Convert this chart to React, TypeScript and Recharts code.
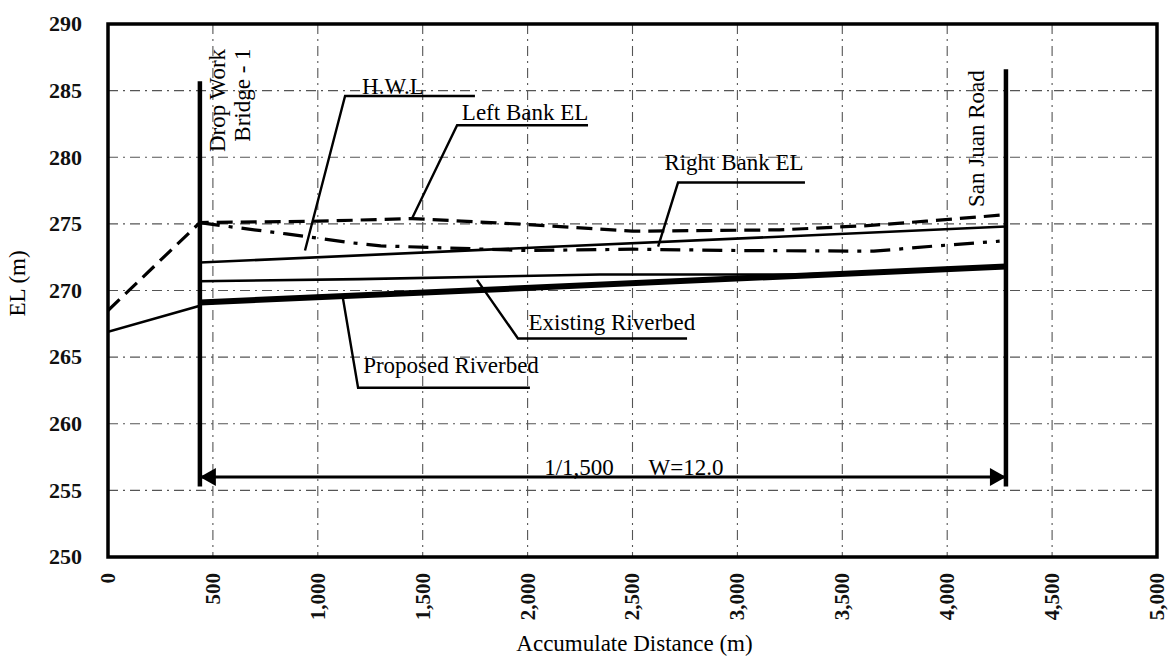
import React from 'react';
import { ComposedChart, Line, Scatter, XAxis, YAxis, CartesianGrid, ReferenceArea } from 'recharts';

// axis ticks
const xTicks = [0, 500, 1000, 1500, 2000, 2500, 3000, 3500, 4000, 4500, 5000];
const yTicks = [250, 255, 260, 265, 270, 275, 280, 285, 290];

// profiles (distance m, elevation m)
const leftBankDist = [0, 438, 1000, 1450, 2000, 2500, 3200, 3600, 3900, 4250];
const leftBankEl = [268.5, 275.1, 275.2, 275.4, 274.95, 274.45, 274.55, 274.85, 275.2, 275.65];

const hwlDist = [438, 550, 850, 1150, 1300, 2000, 2500, 3000, 3650, 3950, 4250];
const hwlEl = [275.1, 274.85, 274.25, 273.6, 273.35, 273.0, 273.1, 273.0, 272.95, 273.35, 273.7];

const rightBankDist = [438, 4280];
const rightBankEl = [272.1, 274.8];

const existingDist = [0, 438, 438, 1200, 2343, 3300, 4280];
const existingEl = [266.9, 268.85, 270.7, 270.85, 271.2, 271.2, 271.8];

const proposedDist = [438, 4280];
const proposedEl = [269.1, 271.8];

// structures
const dropWorkDist = [438, 438];
const dropWorkEl = [285.7, 255.3];
const sanJuanDist = [4280, 4280];
const sanJuanEl = [286.6, 255.3];

const arrowDist = [438, 4280];
const arrowEl = [256, 256];
const arrowDir = ['left', 'right'];

// leader lines (leader + underline)
const hwlLeaderDist = [939, 1130, 1749];
const hwlLeaderEl = [273.0, 284.6, 284.6];
const leftLeaderDist = [1449, 1664, 2288];
const leftLeaderEl = [275.4, 282.4, 282.4];
const rightLeaderDist = [2622, 2717, 3322];
const rightLeaderEl = [273.3, 278.1, 278.1];
const existLeaderDist = [1759, 1954, 2760];
const existLeaderEl = [270.8, 266.4, 266.4];
const propLeaderDist = [1120, 1192, 2011];
const propLeaderEl = [269.4, 262.7, 262.7];

// annotation text
const labelText = ['H.W.L', 'Left Bank EL', 'Right Bank EL', 'Existing Riverbed', 'Proposed Riverbed', '1/1,500', 'W=12.0', 'Drop Work', 'Bridge - 1', 'San Juan Road'];
const labelDist = [1358, 1988, 2984, 2402, 1635, 2245, 2755, 522, 643, 4137];
const labelEl = [285.3, 283.4, 279.65, 267.6, 264.35, 256.72, 256.72, 284.26, 284.67, 281.4];
const labelAngle = [0, 0, 0, 0, 0, 0, 0, -90, -90, -90];

const pts = (ds: number[], els: number[]) => ds.map((d, i) => ({ d, el: els[i] }));

const labels = labelText.map((text, i) => ({ d: labelDist[i], el: labelEl[i], text, angle: labelAngle[i] }));
const arrows = arrowDist.map((d, i) => ({ d, el: arrowEl[i], dir: arrowDir[i] }));

const FONT = '"Liberation Serif", "Times New Roman", serif';

const XTick = (p: any) => {
  const { x, y, payload } = p;
  return (
    <text x={x} y={y} transform={`rotate(-90, ${x}, ${y})`} textAnchor="end" dy="0.33em" fontSize={21} fontWeight="bold" fill="#111" fontFamily={FONT}>
      {Number(payload.value).toLocaleString('en-US')}
    </text>
  );
};

const YTick = (p: any) => {
  const { x, y, payload } = p;
  return (
    <text x={x} y={y} textAnchor="end" dy="0.33em" fontSize={22} fontWeight="bold" fill="#111" fontFamily={FONT}>
      {payload.value}
    </text>
  );
};

const LabelShape = (p: any) => {
  const { cx, cy, payload } = p;
  const rot = payload.angle ? `rotate(${payload.angle}, ${cx}, ${cy})` : undefined;
  return (
    <text x={cx} y={cy} dy="0.33em" textAnchor="middle" transform={rot} fontSize={23} fill="#000" fontFamily={FONT}>
      {payload.text}
    </text>
  );
};

const ArrowHead = (p: any) => {
  const { cx, cy, payload } = p;
  const s = payload.dir === 'left' ? 1 : -1;
  return <polygon points={`${cx},${cy} ${cx + s * 16},${cy - 9} ${cx + s * 16},${cy + 9}`} fill="#000" />;
};

const line = (key: string, data: any[], width: number, dash?: string) => (
  <Line
    key={key}
    data={data}
    dataKey="el"
    type="linear"
    stroke="#000"
    strokeWidth={width}
    strokeDasharray={dash}
    dot={false}
    activeDot={false}
    isAnimationActive={false}
    legendType="none"
  />
);

export default function App() {
  return (
    <div style={{ position: 'absolute', left: 0, top: 0, width: 1168, height: 663, background: '#fff', fontFamily: FONT }}>
      <ComposedChart width={1168} height={663} margin={{ top: 24, right: 11, bottom: 0, left: 0 }}>
        <CartesianGrid stroke="#555" strokeWidth={1.1} strokeDasharray="10 5 2 5" />
        <XAxis
          type="number"
          dataKey="d"
          domain={[0, 5000]}
          ticks={xTicks}
          interval={0}
          allowDataOverflow
          height={106}
          tickSize={0}
          tickMargin={16}
          axisLine={false}
          tick={(p: any) => <XTick {...p} />}
          label={{
            content: (p: any) => {
              const vb = p.viewBox ?? { x: 108, y: 557, width: 1049, height: 106 };
              return (
                <text x={vb.x + vb.width / 2 + 2} y={vb.y + vb.height - 12} textAnchor="middle" fontSize={23} fill="#000" fontFamily={FONT}>
                  Accumulate Distance (m)
                </text>
              );
            },
          }}
        />
        <YAxis
          type="number"
          dataKey="el"
          domain={[250, 290]}
          ticks={yTicks}
          interval={0}
          allowDataOverflow
          width={108}
          tickSize={0}
          tickMargin={26}
          axisLine={false}
          tick={(p: any) => <YTick {...p} />}
          label={{
            content: (p: any) => {
              const vb = p.viewBox ?? { x: 0, y: 24, width: 108, height: 533 };
              const cx = vb.x + 17;
              const cy = vb.y + vb.height / 2 - 7;
              return (
                <text x={cx} y={cy} dy="0.33em" transform={`rotate(-90, ${cx}, ${cy})`} textAnchor="middle" fontSize={23} fill="#000" fontFamily={FONT}>
                  EL (m)
                </text>
              );
            },
          }}
        />

        {line('existing', pts(existingDist, existingEl), 2.6)}
        {line('proposed', pts(proposedDist, proposedEl), 6)}
        {line('right', pts(rightBankDist, rightBankEl), 2.6)}
        {line('left', pts(leftBankDist, leftBankEl), 3.2, '16 8')}
        {line('hwl', pts(hwlDist, hwlEl), 3.2, '20 9 4 9')}
        {line('drop', pts(dropWorkDist, dropWorkEl), 4.5)}
        {line('sanjuan', pts(sanJuanDist, sanJuanEl), 4.5)}
        {line('arrow', pts(arrowDist, arrowEl), 3)}
        {line('l1', pts(hwlLeaderDist, hwlLeaderEl), 2.4)}
        {line('l2', pts(leftLeaderDist, leftLeaderEl), 2.4)}
        {line('l3', pts(rightLeaderDist, rightLeaderEl), 2.4)}
        {line('l4', pts(existLeaderDist, existLeaderEl), 2.4)}
        {line('l5', pts(propLeaderDist, propLeaderEl), 2.4)}

        <Scatter data={arrows} dataKey="el" shape={(p: any) => <ArrowHead {...p} />} isAnimationActive={false} legendType="none" />
        <Scatter data={labels} dataKey="el" shape={(p: any) => <LabelShape {...p} />} isAnimationActive={false} legendType="none" />

        <ReferenceArea x1={0} x2={5000} y1={250} y2={290} fill="none" stroke="#000" strokeWidth={3.5} ifOverflow="visible" />
      </ComposedChart>
    </div>
  );
}
